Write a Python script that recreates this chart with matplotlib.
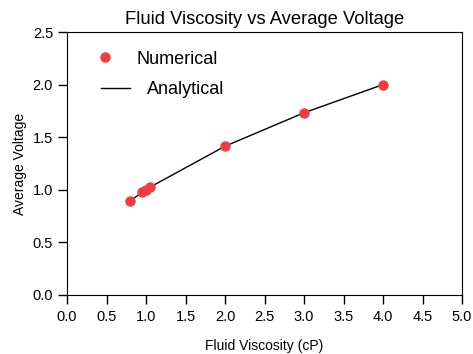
import matplotlib.pyplot as plt

plt.rcParams['font.family'] = ['Liberation Sans', 'DejaVu Sans']

# numerical results
visc_num = [0.8, 0.95, 1.0, 1.05, 2.0, 3.0, 4.0]
volt_num = [0.894, 0.975, 1.0, 1.025, 1.414, 1.732, 2.0]

# analytical curve
visc_ana = [0.8, 0.95, 1.0, 1.05, 2.0, 3.0, 4.0]
volt_ana = [0.894, 0.975, 1.0, 1.025, 1.414, 1.732, 2.0]

W, H = 473, 354
fig = plt.figure(figsize=(W/100, H/100), dpi=100)
ax = fig.add_axes([67/W, 1-295/H, 395/W, 263/H])

line, = ax.plot(visc_ana, volt_ana, color='black', lw=1)
dots, = ax.plot(visc_num, volt_num, 'o', color='#f23c42', ms=6.5)

ax.set_xlim(0, 5)
ax.set_ylim(0, 2.5)
ax.set_xticks([i*0.5 for i in range(11)])
ax.set_yticks([i*0.5 for i in range(6)])
ax.set_xticklabels(['%.1f' % (i*0.5) for i in range(11)])
ax.set_yticklabels(['%.1f' % (i*0.5) for i in range(6)])
ax.tick_params(direction='out', length=6.5, width=1, labelsize=10.5)
ax.tick_params(axis='x', pad=4)
ax.tick_params(axis='y', pad=3.5)
ax.set_xlabel('Fluid Viscosity (cP)', fontsize=10, labelpad=11)
ax.set_ylabel('Average Voltage', fontsize=10)
ax.set_title('Fluid Viscosity vs Average Voltage', fontsize=13.2)

# two legend rows placed separately (entries are not aligned in the original)
fs = 13
leg1 = ax.legend([dots], ['Numerical'], loc='center left', frameon=False,
                 fontsize=fs, handlelength=0.85, handletextpad=1.3,
                 borderpad=0, borderaxespad=0,
                 bbox_to_anchor=(97.5/W, 1-59/H), bbox_transform=fig.transFigure)
ax.add_artist(leg1)
ax.legend([line], ['Analytical'], loc='center left', frameon=False,
          fontsize=fs, handlelength=1.6, handletextpad=0.95,
          borderpad=0, borderaxespad=0,
          bbox_to_anchor=(101/W, 1-90/H), bbox_transform=fig.transFigure)

fig.savefig('out.png', dpi=100)
